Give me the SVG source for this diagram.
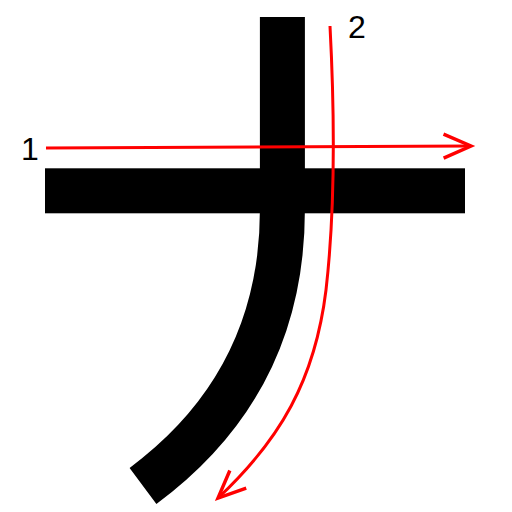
<svg xmlns="http://www.w3.org/2000/svg" width="512" height="512" viewBox="0 0 512 512">
<style>
.stroke{fill:none;stroke:#000;stroke-width:45;stroke-linecap:butt}
.guide{fill:none;stroke:#ff0000;stroke-width:3}
.num{font-family:"Liberation Sans",Arial,sans-serif;font-size:32px;fill:#000;text-anchor:middle}
</style>
<defs>
<marker id="arr" markerUnits="userSpaceOnUse" markerWidth="40" markerHeight="40" viewBox="-30 -15 35 30" refX="0" refY="0" orient="auto">
<path d="M-24,-10.5 L0,0 L-24,10.5" fill="none" stroke="#ff0000" stroke-width="3"/>
</marker>
</defs>
<rect width="512" height="512" fill="#fff"/>
<g id="character">
<rect x="45" y="168.3" width="420" height="45" fill="#000"/>
<path class="stroke" d="M282.4,17 V210 C282.4,330 232,420 143,486"/>
</g>
<g id="connectors">
<path id="guide1" class="guide" d="M46,148 L471,146" marker-end="url(#arr)"/>
<path id="guide2" class="guide" d="M330,26 C336,140 334,220 326,290 C315,380 280,440 218,498" marker-end="url(#arr)"/>
</g>
<g id="labels">
<text class="num" x="30" y="160">1</text>
<text class="num" x="357" y="38">2</text>
</g>
</svg>
